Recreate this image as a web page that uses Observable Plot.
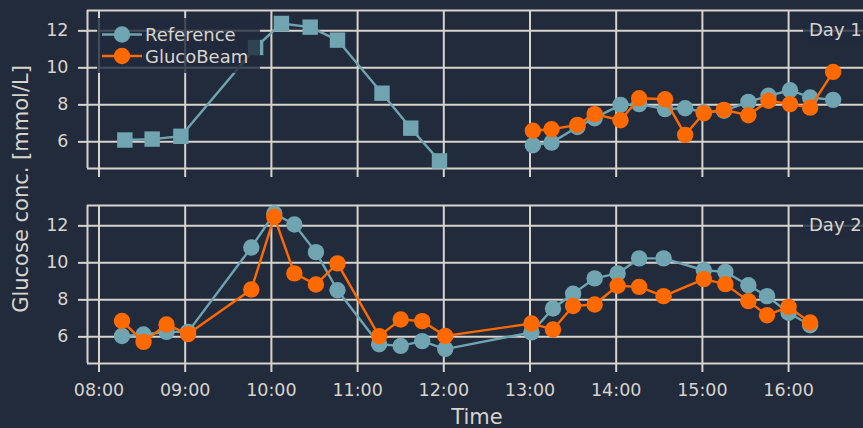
<!DOCTYPE html>
<html><head><meta charset="utf-8">
<script src="https://cdn.jsdelivr.net/npm/d3@7"></script>
<script src="https://cdn.jsdelivr.net/npm/@observablehq/plot@0.6"></script>
<style>
html,body{margin:0;padding:0;background:#212b3c;}
#wrap{position:relative;width:863px;height:428px;overflow:hidden;}
</style>
</head><body><div id="wrap"></div>
<script>
// ---------- data ----------
const days = ["Day 1", "Day 2"];
const seriesNames = ["Reference", "GlucoBeam"];
const hourTicks = ["08:00","09:00","10:00","11:00","12:00","13:00","14:00","15:00","16:00"];
const yTicks = [6, 8, 10, 12];

// Day 1, morning reference (square markers)
const day1MorningTimes = ["08:18","08:37","08:57","09:49","10:07","10:27","10:46","11:17","11:37","11:57"];
const day1MorningRef   = [6.10, 6.15, 6.30, 11.10, 12.40, 12.20, 11.50, 8.63, 6.74, 4.97];

// Day 1, afternoon
const day1Times = ["13:02","13:15","13:33","13:45","14:03","14:16","14:34","14:48","15:01","15:15","15:32","15:46","16:01","16:15","16:31"];
const day1Ref   = [5.82, 5.96, 6.80, 7.28, 8.00, 8.04, 7.77, 7.82, 7.60, 7.68, 8.16, 8.49, 8.79, 8.40, 8.27];
const day1Gb    = [6.60, 6.68, 6.92, 7.50, 7.17, 8.36, 8.30, 6.38, 7.55, 7.73, 7.44, 8.22, 8.04, 7.85, 9.78];

// Day 2
const day2Times = ["08:16","08:31","08:47","09:02","09:46","10:02","10:16","10:31","10:46","11:15","11:30","11:45","12:01","13:01","13:16","13:30","13:45","14:01","14:16","14:33","15:01","15:16","15:32","15:45","16:00","16:15"];
const day2Ref   = [6.05, 6.13, 6.27, 6.27, 10.83, 12.67, 12.07, 10.58, 8.52, 5.60, 5.51, 5.77, 5.34, 6.24, 7.53, 8.33, 9.16, 9.43, 10.24, 10.24, 9.60, 9.51, 8.79, 8.20, 7.30, 6.63];
const day2Gb    = [6.86, 5.73, 6.67, 6.15, 8.56, 12.49, 9.43, 8.83, 9.97, 6.04, 6.94, 6.85, 6.05, 6.72, 6.40, 7.67, 7.75, 8.76, 8.70, 8.20, 9.12, 8.85, 7.93, 7.17, 7.62, 6.78];

// ---------- styling ----------
const BG = "#212b3c", FG = "#d8d4cc", TEAL = "#70a4b0", ORANGE = "#ff6a00";
const toH = s => +s.slice(0, 2) + +s.slice(3) / 60;

const rows = [];
const add = (day, times, vals, series, seg, shape) =>
  times.forEach((t, i) => rows.push({day, t: toH(t), v: vals[i], series, seg, shape}));
add(days[0], day1MorningTimes, day1MorningRef, seriesNames[0], "d1a", "square");
add(days[0], day1Times, day1Ref, seriesNames[0], "d1b", "circle");
add(days[0], day1Times, day1Gb, seriesNames[1], "d1c", "circle");
add(days[1], day2Times, day2Ref, seriesNames[0], "d2a", "circle");
add(days[1], day2Times, day2Gb, seriesNames[1], "d2b", "circle");

const refRows = rows.filter(d => d.series === seriesNames[0]);
const gbRows = rows.filter(d => d.series === seriesNames[1]);
const xTickVals = hourTicks.map(toH);
const xDomain = [7.8666, 16.869];
const yDomain = [4.56, 13.1];

const plot = Plot.plot({
  width: 863, height: 428,
  marginLeft: 87, marginRight: 0, marginTop: 10, marginBottom: 65,
  style: {background: BG, color: FG, fontFamily: "DejaVu Sans", fontSize: "17.5px"},
  x: {domain: xDomain},
  y: {domain: yDomain},
  fy: {domain: days, paddingInner: 37 / 195, paddingOuter: 0, axis: null, label: null},
  marks: [
    Plot.gridY({ticks: yTicks, stroke: FG, strokeOpacity: 1, strokeWidth: 2}),
    Plot.gridX({ticks: xTickVals, stroke: FG, strokeOpacity: 1, strokeWidth: 2}),
    Plot.ruleX([xDomain[0]], {stroke: FG, strokeWidth: 2}),
    Plot.ruleY(yDomain, {stroke: FG, strokeWidth: 2}),
    Plot.axisY({ticks: yTicks, tickSize: 9, tickPadding: 10, label: null, strokeWidth: 2, stroke: FG, fill: FG}),
    Plot.axisX({ticks: xTickVals, tickSize: 9, tickFormat: () => "", label: null, facetAnchor: null, strokeWidth: 2, stroke: FG}),
    Plot.axisX({ticks: xTickVals, tickSize: 0, tickPadding: 20, label: null, fill: FG,
      tickFormat: d => hourTicks[xTickVals.indexOf(d)] ?? ""}),
    Plot.line(refRows, {x: "t", y: "v", z: "seg", fy: "day", stroke: TEAL, strokeWidth: 2.4}),
    Plot.dot(refRows.filter(d => d.shape === "square"), {x: "t", y: "v", fy: "day", symbol: "square", r: 8.7, fill: TEAL}),
    Plot.dot(refRows.filter(d => d.shape === "circle"), {x: "t", y: "v", fy: "day", r: 8.2, fill: TEAL}),
    Plot.line(gbRows, {x: "t", y: "v", z: "seg", fy: "day", stroke: ORANGE, strokeWidth: 2.4}),
    Plot.dot(gbRows, {x: "t", y: "v", fy: "day", r: 8.2, fill: ORANGE})
  ]
});
document.getElementById("wrap").appendChild(plot);

// ---------- annotations (legend, labels) ----------
const svg = d3.select(plot);
const g = svg.append("g").attr("font-family", "DejaVu Sans").attr("fill", FG).attr("text-anchor", "start");

// axis titles
g.append("text").attr("x", 477).attr("y", 424).attr("text-anchor", "middle")
  .attr("font-size", 21).text("Time");
g.append("text").attr("transform", "translate(28,189) rotate(-90)").attr("text-anchor", "middle")
  .attr("font-size", 21).text("Glucose conc. [mmol/L]");

// day labels
[[days[0], 14], [days[1], 209]].forEach(([lab, top]) => {
  g.append("rect").attr("x", 803).attr("y", top).attr("width", 70).attr("height", 28)
    .attr("fill", BG).attr("fill-opacity", 0.8);
  g.append("text").attr("x", 809).attr("y", top + 22).attr("font-size", 18)
    .attr("text-anchor", "start").text(lab);
});

// legend
g.append("rect").attr("x", 97).attr("y", 18).attr("width", 163).attr("height", 55)
  .attr("fill", BG).attr("fill-opacity", 0.8);
[[seriesNames[0], TEAL, 34.5], [seriesNames[1], ORANGE, 56]].forEach(([lab, col, cy]) => {
  g.append("line").attr("x1", 102).attr("x2", 142).attr("y1", cy).attr("y2", cy)
    .attr("stroke", col).attr("stroke-width", 2.4);
  g.append("circle").attr("cx", 122).attr("cy", cy).attr("r", 8.2).attr("fill", col);
  g.append("text").attr("x", 145).attr("y", cy + 6.5).attr("font-size", 18)
    .attr("text-anchor", "start").text(lab);
});
</script>
</body></html>
